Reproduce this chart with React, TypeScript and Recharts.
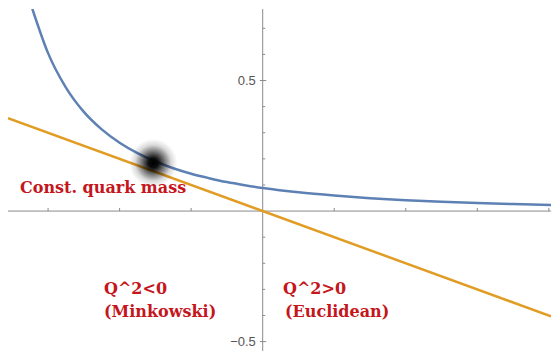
import { ComposedChart, Line, XAxis, YAxis, ReferenceLine, ReferenceDot } from 'recharts';

// running mass curve (blue)
const runningMass = [
  { q: -3.22, m: 0.775 },
  { q: -3.0, m: 0.605 },
  { q: -2.75, m: 0.473 },
  { q: -2.5, m: 0.38 },
  { q: -2.25, m: 0.313 },
  { q: -2.0, m: 0.262 },
  { q: -1.75, m: 0.222 },
  { q: -1.5, m: 0.19 },
  { q: -1.25, m: 0.164 },
  { q: -1.0, m: 0.143 },
  { q: -0.75, m: 0.126 },
  { q: -0.5, m: 0.111 },
  { q: -0.25, m: 0.099 },
  { q: 0, m: 0.0885 },
  { q: 0.5, m: 0.0717 },
  { q: 1.0, m: 0.0593 },
  { q: 1.5, m: 0.0495 },
  { q: 2.0, m: 0.0418 },
  { q: 2.5, m: 0.0358 },
  { q: 3.0, m: 0.0309 },
  { q: 3.5, m: 0.0268 },
  { q: 4.03, m: 0.0234 },
];

// straight orange line
const constMass = [
  { q: -3.56, m: 0.356 },
  { q: 4.03, m: -0.403 },
];

const blob = { q: -1.53, m: 0.184 };

const xTicks = [-3, -2, -1, 1, 2, 3, 4];
const yMinorTicks = [-0.4, -0.3, -0.2, -0.1, 0.1, 0.2, 0.3, 0.4, 0.6, 0.7];
const yMajorTicks = [
  { v: 0.5, label: '0.5' },
  { v: -0.5, label: '\u22120.5' },
];

const X_DOMAIN = [-3.56, 4.03];
const Y_DOMAIN = [-0.536, 0.774];

const AXIS = '#8a8a8a';
const RED = '#c4161c';
const serif = { fontFamily: '"DejaVu Serif", serif', fontWeight: 700, fontSize: 16, fill: RED };

const BlobShape = (props: any) => {
  const { cx, cy } = props;
  return (
    <g>
      <defs>
        <radialGradient id="blobGrad">
          <stop offset="0%" stopColor="#000" stopOpacity={1} />
          <stop offset="20%" stopColor="#000" stopOpacity={0.95} />
          <stop offset="50%" stopColor="#000" stopOpacity={0.5} />
          <stop offset="75%" stopColor="#000" stopOpacity={0.15} />
          <stop offset="100%" stopColor="#000" stopOpacity={0} />
        </radialGradient>
      </defs>
      <circle cx={cx} cy={cy} r={24} fill="url(#blobGrad)" />
    </g>
  );
};

export default function App() {
  return (
    <div style={{ position: 'absolute', left: 0, top: 0, background: '#fff' }}>
      <ComposedChart width={551} height={351} margin={{ top: 9, right: 0, bottom: 0, left: 8 }}>
        <XAxis type="number" dataKey="q" domain={X_DOMAIN} allowDataOverflow hide />
        <YAxis type="number" domain={Y_DOMAIN} allowDataOverflow hide />

        {/* axes through the origin */}
        <ReferenceLine y={0} stroke={AXIS} strokeWidth={1} />
        <ReferenceLine x={0} stroke={AXIS} strokeWidth={1} />

        {xTicks.map((t) => (
          <ReferenceLine key={'xt' + t} segment={[{ x: t, y: 0 }, { x: t, y: 0.012 }]} stroke={AXIS} />
        ))}
        {yMinorTicks.map((t) => (
          <ReferenceLine key={'ym' + t} segment={[{ x: 0, y: t }, { x: 0.035, y: t }]} stroke={AXIS} />
        ))}
        {yMajorTicks.map((t) => (
          <ReferenceLine
            key={'yM' + t.v}
            segment={[{ x: -0.04, y: t.v }, { x: 0.05, y: t.v }]}
            stroke={AXIS}
            label={{ value: t.label, position: 'left', offset: 4, fill: '#555', fontSize: 13, fontFamily: '"Liberation Sans", Arial, sans-serif' }}
          />
        ))}

        <Line data={runningMass} dataKey="m" type="monotone" stroke="#5e81b5" strokeWidth={2.5} dot={false} isAnimationActive={false} />
        <Line data={constMass} dataKey="m" type="linear" stroke="#e19c24" strokeWidth={2.5} dot={false} isAnimationActive={false} />

        <ReferenceDot x={blob.q} y={blob.m} r={24} shape={BlobShape} ifOverflow="visible" />

        <text x={20} y={193} style={serif}>Const. quark mass</text>
        <text x={104} y={294} style={serif}>Q^2&lt;0</text>
        <text x={104} y={317} style={serif}>(Minkowski)</text>
        <text x={283} y={294} style={serif}>Q^2&gt;0</text>
        <text x={285} y={317} style={serif}>(Euclidean)</text>
      </ComposedChart>
    </div>
  );
}
